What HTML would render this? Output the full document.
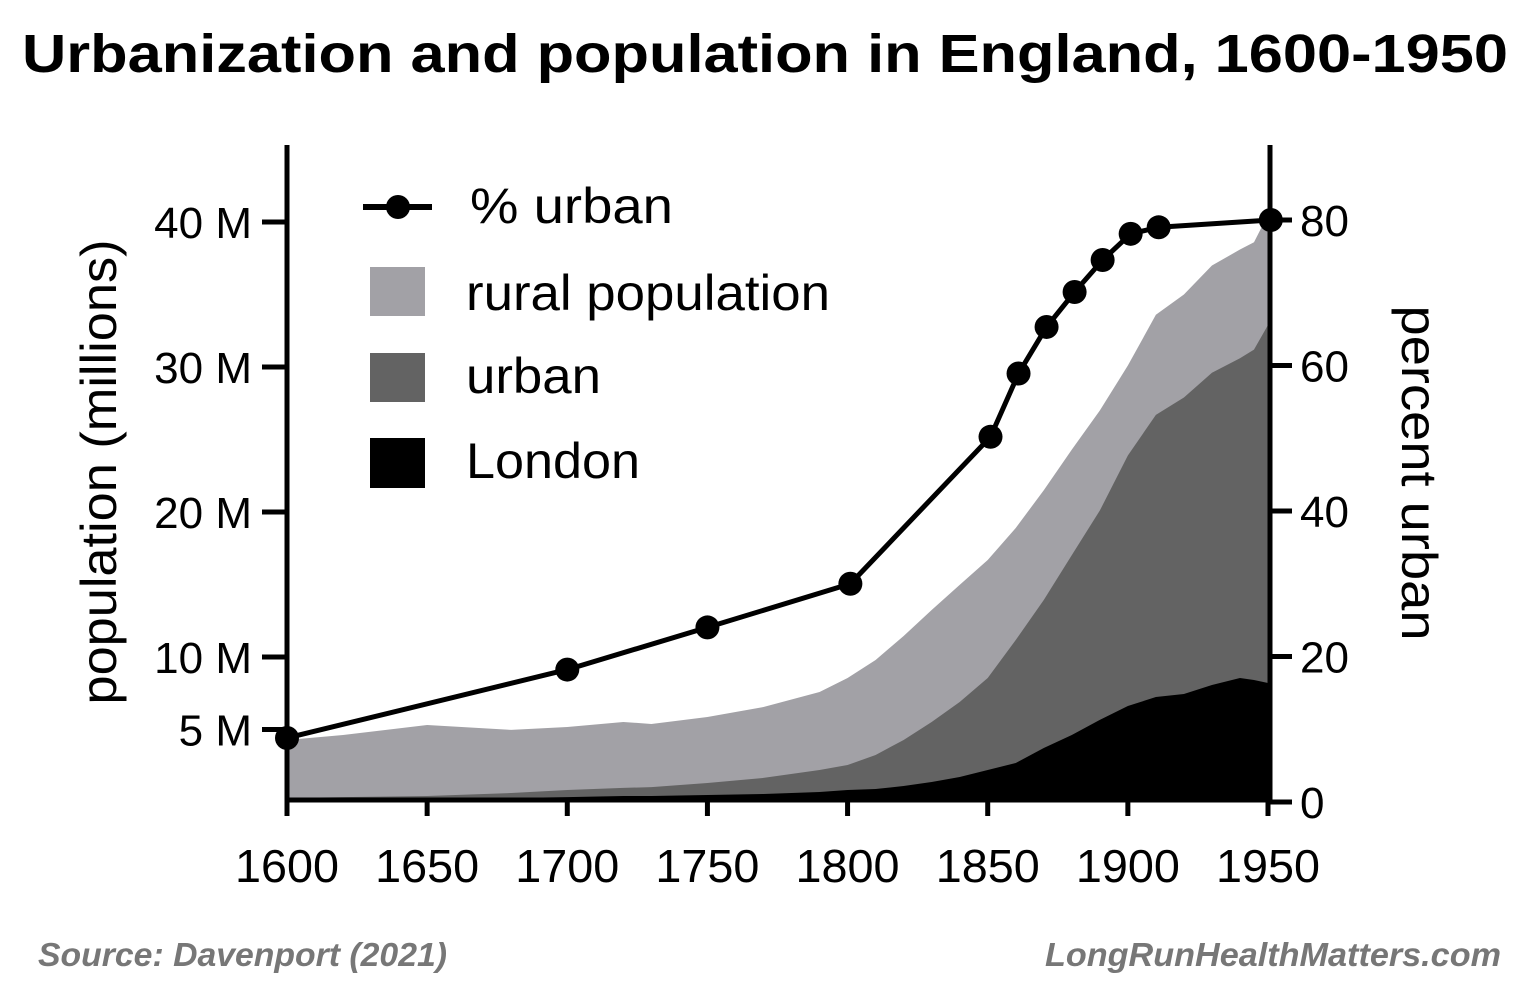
<!DOCTYPE html>
<html><head><meta charset="utf-8"><style>
body{margin:0;background:#fff;width:1538px;height:996px;overflow:hidden;font-family:"Liberation Sans",sans-serif}
</style></head><body>
<svg width="1538" height="996" viewBox="0 0 1538 996" xmlns="http://www.w3.org/2000/svg">
<text x="22" y="72" textLength="1486" lengthAdjust="spacingAndGlyphs" font-size="54" font-weight="bold" fill="#000">Urbanization and population in England, 1600-1950</text>
<g id="plot"></g>
<g id="axes"></g>
<g id="legend">
<line x1="363" y1="207" x2="432" y2="207" stroke="#000" stroke-width="6"/>
<circle cx="398" cy="207" r="12" fill="#000"/>
<text x="470" y="223" font-size="50" textLength="203" lengthAdjust="spacingAndGlyphs">% urban</text>
<rect x="370" y="267" width="55" height="49" fill="#a2a1a6"/>
<text x="466" y="310" font-size="50" textLength="364" lengthAdjust="spacingAndGlyphs">rural population</text>
<rect x="370" y="353" width="55" height="49" fill="#636363"/>
<text x="466" y="393" font-size="50" textLength="135" lengthAdjust="spacingAndGlyphs">urban</text>
<rect x="370" y="438" width="55" height="50" fill="#000"/>
<text x="466" y="478" font-size="50" textLength="174" lengthAdjust="spacingAndGlyphs">London</text>
</g>
<text transform="translate(116,472) rotate(-90)" text-anchor="middle" font-size="50" textLength="465" lengthAdjust="spacingAndGlyphs">population (millions)</text>
<text transform="translate(1402,473) rotate(90)" text-anchor="middle" font-size="50" textLength="335" lengthAdjust="spacingAndGlyphs">percent urban</text>
<text x="38" y="966" font-size="33" textLength="409" lengthAdjust="spacingAndGlyphs" font-weight="bold" font-style="italic" fill="#777">Source: Davenport (2021)</text>
<text x="1045" y="966" font-size="33" textLength="456" lengthAdjust="spacingAndGlyphs" font-weight="bold" font-style="italic" fill="#777">LongRunHealthMatters.com</text>
</svg>
<script>
const years=[1600,1620,1650,1680,1700,1720,1730,1750,1770,1790,1800,1810,1820,1830,1840,1850,1860,1870,1880,1890,1900,1910,1920,1930,1940,1945,1950];
const totalPop=[4.28,4.62,5.31,4.97,5.17,5.52,5.38,5.86,6.55,7.59,8.55,9.79,11.45,13.24,14.97,16.69,18.9,21.5,24.3,27.0,30.1,33.6,35.0,37.0,38.1,38.6,40.5];
const urbanPop=[0.28,0.34,0.41,0.62,0.83,0.97,1.03,1.31,1.66,2.21,2.55,3.24,4.28,5.52,6.9,8.55,11.17,13.93,17.03,20.1,23.9,26.7,27.9,29.6,30.6,31.2,32.9];
const londonPop=[0.14,0.14,0.21,0.28,0.34,0.41,0.41,0.48,0.55,0.69,0.83,0.9,1.1,1.38,1.72,2.21,2.69,3.72,4.62,5.66,6.62,7.24,7.45,8.07,8.55,8.41,8.21];
const pctYears=[1600,1700,1750,1801,1851,1861,1871,1881,1891,1901,1911,1951];
const pctUrban=[8.8,18.2,24,30,50.2,58.9,65.3,70.1,74.5,78.1,79,80];
const xTicks=[1600,1650,1700,1750,1800,1850,1900,1950];
const yTicksLeft=[5,10,20,30,40];
const yTickLabelsLeft=["5 M","10 M","20 M","30 M","40 M"];
const yTicksRight=[0,20,40,60,80];

const NS="http://www.w3.org/2000/svg";
const X0=287,X1=1268,Y0=802;
const x=v=>X0+(v-1600)*(X1-X0)/350;
const yL=v=>Y0-v*14.5;
const yR=v=>Y0-v*7.275;
function mk(tag,attrs,parent){const e=document.createElementNS(NS,tag);for(const k in attrs)e.setAttribute(k,attrs[k]);parent.appendChild(e);return e;}
const plot=document.getElementById('plot'),axes=document.getElementById('axes');
function area(top,color,name){
  let d="M"+x(years[0])+","+Y0;
  years.forEach((yr,i)=>{d+=" L"+x(yr)+","+yL(top[i]);});
  d+=" L"+x(years[years.length-1])+","+Y0+" Z";
  const p=mk('path',{d:d,fill:color},plot);
  
  
}
area(totalPop,'#a2a1a6','rural-population-area');
area(urbanPop,'#636363','urban-population-area');
area(londonPop,'#000','london-population-area');
let pts=pctYears.map((yr,i)=>x(yr)+","+yR(pctUrban[i])).join(" ");
const pl=mk('polyline',{points:pts,fill:'none',stroke:'#000','stroke-width':5,'stroke-linejoin':'round'},plot);


pctYears.forEach((yr,i)=>{
  const c=mk('circle',{cx:x(yr),cy:yR(pctUrban[i]),r:12,fill:'#000'},plot);
  
  
});
mk('line',{x1:X0,y1:145,x2:X0,y2:802,stroke:'#000','stroke-width':5},axes);
mk('line',{x1:1270,y1:145,x2:1270,y2:802,stroke:'#000','stroke-width':5},axes);
mk('line',{x1:X0-2,y1:800,x2:1272,y2:800,stroke:'#000','stroke-width':5},axes);
xTicks.forEach(v=>{
  mk('line',{x1:x(v),y1:800,x2:x(v),y2:816,stroke:'#000','stroke-width':5},axes);
  const t=mk('text',{x:x(v),y:882,'text-anchor':'middle','font-size':46,textLength:104,lengthAdjust:'spacingAndGlyphs'},axes);
  t.textContent=v;
  
  
});
yTicksLeft.forEach((v,i)=>{
  mk('line',{x1:262,y1:yL(v),x2:X0,y2:yL(v),stroke:'#000','stroke-width':5},axes);
  const t=mk('text',{x:252,y:yL(v)+16,'text-anchor':'end','font-size':44},axes);
  t.textContent=yTickLabelsLeft[i];
  
  
});
yTicksRight.forEach(v=>{
  mk('line',{x1:1270,y1:yR(v),x2:1292,y2:yR(v),stroke:'#000','stroke-width':5},axes);
  const t=mk('text',{x:1300,y:yR(v)+16,'text-anchor':'start','font-size':44},axes);
  t.textContent=v;
  
  
});
</script>
</body></html>
